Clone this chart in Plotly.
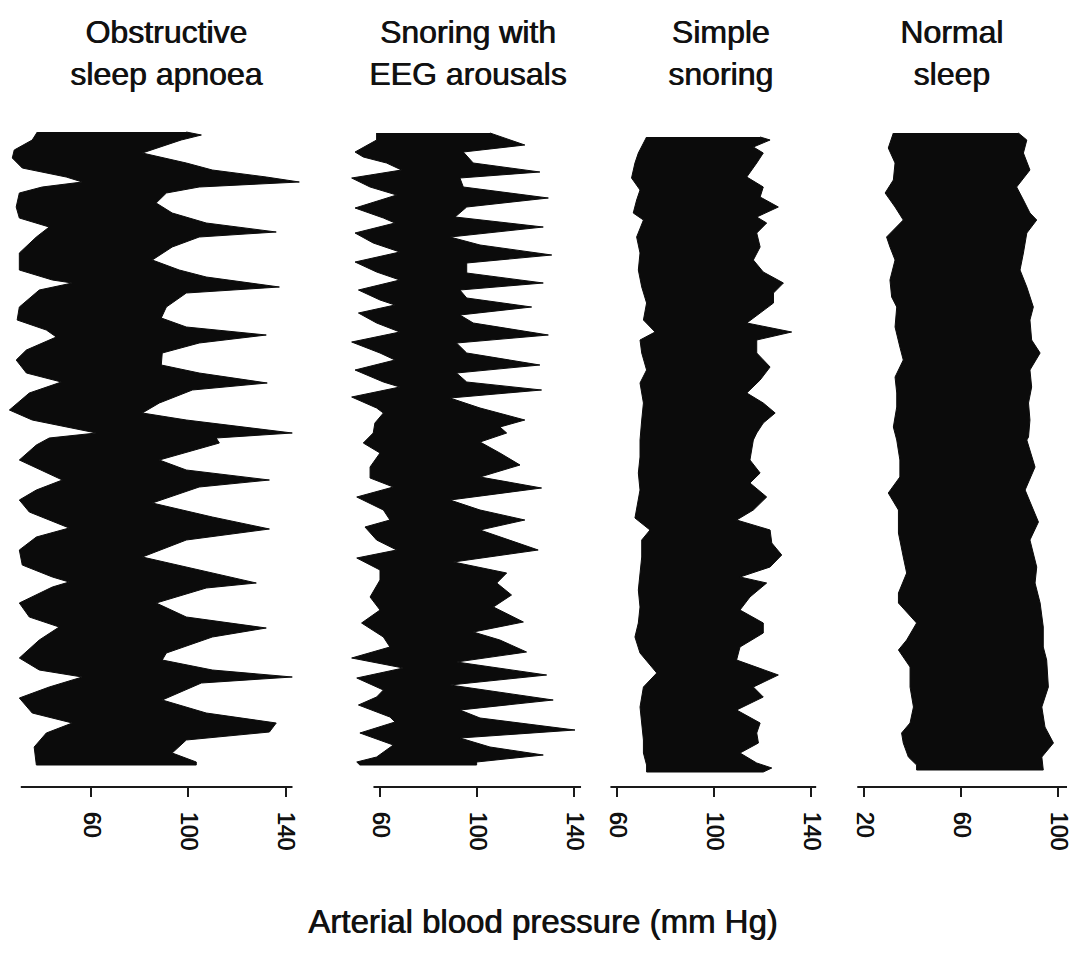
import plotly.graph_objects as go

# ---------------- text ----------------
panel_titles = ["Obstructive<br>sleep apnoea", "Snoring with<br>EEG arousals",
                "Simple<br>snoring", "Normal<br>sleep"]
x_axis_title = "Arterial blood pressure (mm Hg)"

# tick values per panel (mm Hg)
osa_ticks = [60, 100, 140]
arousal_ticks = [60, 100, 140]
snore_ticks = [60, 100, 140]
normal_ticks = [20, 60, 100]

# ---------------- data (time runs downwards, arbitrary units) ----------------
# Obstructive sleep apnoea: diastolic (left) and systolic (right) envelopes
osa_dia_t = [2, 10, 20, 28, 38, 47, 52, 57, 63, 77, 88, 97, 107, 123, 140, 150, 153, 160, 177, 190,
             200, 207, 220, 230, 243, 252, 263, 280, 290, 303, 308, 315, 330, 343, 350, 360, 370, 382,
             398, 407, 420, 435, 447, 452, 457, 473, 487, 497, 510, 528, 540, 547, 557, 568, 583, 593,
             603, 617, 633, 635]
osa_dia = [37.8, 35.7, 28.3, 27.5, 31.6, 49.7, 56.3, 39.8, 30.4, 29.1, 30.4, 42.7, 37.4, 30.4, 30.4,
           44.0, 52.2, 38.6, 30.4, 29.5, 41.5, 45.6, 33.3, 29.1, 33.3, 47.7, 34.5, 26.3, 35.7, 62.1,
           42.7, 37.4, 30.4, 41.5, 48.1, 37.4, 30.4, 34.5, 50.9, 37.4, 30.4, 31.6, 44.0, 50.9, 44.0,
           30.4, 34.5, 46.8, 38.6, 30.4, 38.6, 56.3, 42.7, 30.4, 35.7, 52.2, 41.5, 36.5, 37.4, 37.4]
osa_sys_t = [2, 5, 10, 23, 33, 40, 47, 52, 57, 63, 73, 83, 93, 102, 107, 117, 130, 140, 147, 157, 163,
             177, 188, 197, 205, 213, 223, 235, 243, 253, 260, 273, 283, 290, 303, 308, 313, 330, 340,
             350, 357, 373, 387, 399, 410, 427, 440, 453, 458, 473, 487, 498, 507, 523, 530, 540, 547,
             553, 570, 583, 593, 602, 610, 623, 632, 635]
osa_sys = [99.1, 105.3, 97.0, 81.0, 99.1, 109.8, 132.0, 145.6, 104.4, 90.9, 86.7, 93.3, 107.3, 136.1,
           104.4, 93.3, 85.1, 96.2, 107.3, 137.4, 99.1, 90.9, 88.8, 99.1, 132.0, 104.4, 89.2, 88.8,
           104.4, 132.4, 101.6, 88.0, 81.0, 99.1, 142.7, 111.4, 112.7, 88.0, 99.1, 133.3, 104.4, 85.1,
           109.8, 133.3, 99.1, 81.0, 104.4, 127.9, 107.3, 86.7, 99.1, 132.0, 109.8, 90.9, 89.2, 109.8,
           142.7, 105.3, 89.2, 107.3, 136.1, 133.3, 99.1, 93.3, 103.2, 103.2]

# Snoring with EEG arousals
arousal_dia_t = [3, 10, 22, 27, 33, 40, 48, 57, 65, 78, 88, 93, 103, 113, 122, 132, 142, 150, 160, 170,
                 175, 183, 193, 202, 212, 223, 230, 240, 252, 257, 267, 278, 283, 293, 303, 313, 323,
                 337, 348, 357, 367, 380, 390, 397, 410, 420, 428, 440, 450, 467, 480, 493, 507, 517,
                 528, 538, 548, 560, 567, 575, 587, 592, 603, 615, 627, 632, 635]
arousal_dia = [58.4, 58.4, 49.5, 52.9, 62.5, 68.7, 48.1, 55.7, 66.7, 49.5, 61.2, 66.0, 49.5, 57.0,
               68.0, 49.5, 58.4, 68.0, 50.9, 59.8, 66.0, 50.9, 58.4, 68.0, 48.1, 59.8, 66.0, 49.5,
               61.2, 68.0, 48.1, 58.4, 61.2, 57.7, 57.0, 52.9, 59.8, 55.7, 55.7, 65.3, 50.2, 61.2,
               63.9, 53.6, 58.4, 66.7, 50.2, 59.8, 59.8, 55.7, 59.8, 52.2, 61.2, 63.9, 48.1, 69.4,
               50.2, 61.2, 58.4, 50.9, 63.9, 66.0, 51.5, 65.3, 58.4, 50.2, 51.5]
arousal_sys_t = [3, 15, 22, 33, 42, 48, 57, 68, 77, 87, 97, 107, 115, 125, 133, 143, 153, 160, 168,
                 177, 185, 193, 205, 213, 223, 235, 243, 252, 260, 268, 278, 290, 297, 303, 312, 323,
                 335, 347, 358, 370, 380, 390, 400, 407, 420, 432, 443, 453, 465, 477, 492, 502, 510,
                 522, 532, 545, 555, 570, 580, 588, 600, 608, 617, 625, 632, 635]
arousal_sys = [105.2, 119.6, 94.2, 98.3, 125.8, 92.8, 94.2, 129.3, 95.6, 90.8, 127.2, 88.7, 101.1,
               130.7, 95.6, 95.6, 127.2, 92.8, 95.6, 122.4, 92.8, 98.3, 129.3, 91.4, 95.6, 125.8,
               91.4, 95.6, 126.5, 88.7, 101.1, 119.6, 109.3, 112.1, 101.1, 109.3, 117.6, 101.1,
               126.5, 88.7, 101.1, 119.6, 101.1, 110.0, 125.1, 90.1, 112.1, 108.0, 114.1, 106.6,
               119.0, 98.3, 109.3, 120.3, 91.4, 128.6, 88.7, 131.3, 92.8, 101.1, 140.3, 92.8, 105.2,
               127.2, 99.7, 99.7]

# Simple snoring
snore_dia_t = [7, 13, 23, 33, 48, 60, 70, 83, 90, 107, 123, 140, 157, 173, 190, 202, 210, 223, 240,
               253, 273, 290, 310, 327, 343, 360, 388, 400, 410, 427, 443, 460, 477, 493, 507, 523,
               543, 557, 577, 593, 610, 623, 635, 642]
snore_dia = [72.2, 70.9, 68.8, 67.4, 66.0, 69.5, 68.1, 66.7, 70.9, 68.1, 69.5, 68.8, 70.2, 72.2, 70.9,
             75.7, 69.5, 70.2, 72.2, 69.5, 70.9, 70.2, 69.5, 69.5, 68.8, 69.5, 67.4, 73.6, 70.2, 70.2,
             69.5, 68.8, 69.5, 68.8, 67.4, 69.5, 76.4, 70.9, 69.5, 70.2, 70.9, 70.9, 72.2, 72.2]
snore_sys_t = [7, 10, 17, 23, 33, 47, 57, 67, 77, 87, 93, 103, 117, 130, 142, 153, 163, 173, 183, 193,
               202, 210, 223, 237, 250, 263, 273, 283, 293, 303, 310, 330, 343, 353, 367, 380, 390,
               400, 413, 425, 437, 447, 453, 467, 480, 493, 503, 517, 530, 545, 557, 567, 580, 593,
               603, 613, 623, 633, 638, 642]
snore_sys = [119.0, 123.1, 116.2, 120.3, 117.6, 113.5, 120.3, 119.0, 126.5, 117.6, 121.7, 117.6, 119.0,
             116.2, 120.3, 128.6, 124.5, 124.5, 119.0, 113.5, 132.0, 117.6, 117.6, 123.1, 119.0, 113.5,
             120.3, 125.2, 120.3, 117.6, 116.2, 114.8, 119.0, 114.8, 121.7, 116.2, 109.3, 123.1, 123.8,
             127.9, 123.1, 110.7, 121.7, 114.8, 110.7, 120.3, 120.3, 110.7, 109.3, 126.5, 116.2, 120.3,
             109.3, 119.0, 117.6, 118.3, 110.7, 117.6, 123.8, 120.3]

# Normal sleep
normal_dia_t = [3, 18, 33, 50, 63, 77, 90, 107, 117, 130, 150, 167, 177, 197, 217, 230, 247, 263, 277,
                297, 310, 330, 347, 363, 380, 403, 427, 443, 463, 473, 493, 510, 520, 537, 557, 577,
                593, 603, 613, 627, 635, 640]
normal_dia = [32.0, 29.9, 32.7, 32.0, 28.6, 32.7, 36.1, 29.2, 30.6, 32.7, 30.6, 31.3, 33.4, 32.7, 34.7,
              36.1, 32.7, 33.4, 33.4, 32.0, 33.4, 34.7, 34.7, 29.9, 34.1, 34.1, 36.1, 37.5, 34.1, 34.1,
              41.6, 37.5, 34.1, 38.9, 38.9, 40.3, 38.9, 35.4, 36.1, 38.2, 41.6, 41.6]
normal_sys_t = [3, 10, 23, 40, 57, 70, 83, 90, 103, 123, 140, 157, 177, 190, 210, 223, 240, 257, 273,
                290, 307, 310, 337, 360, 392, 410, 437, 453, 473, 497, 517, 530, 557, 577, 597, 613,
                627, 640]
normal_sys = [83.6, 87.1, 85.7, 88.4, 82.9, 85.7, 88.4, 91.2, 87.1, 85.7, 84.3, 87.1, 89.8, 88.4, 89.1,
              92.6, 88.4, 89.1, 87.8, 88.4, 87.8, 87.1, 90.5, 86.4, 91.9, 88.4, 91.2, 90.5, 92.6, 93.9,
              93.9, 95.3, 96.0, 93.3, 94.6, 98.1, 93.3, 93.9]

panels = [
    (osa_dia_t, osa_dia, osa_sys_t, osa_sys, osa_ticks),
    (arousal_dia_t, arousal_dia, arousal_sys_t, arousal_sys, arousal_ticks),
    (snore_dia_t, snore_dia, snore_sys_t, snore_sys, snore_ticks),
    (normal_dia_t, normal_dia, normal_sys_t, normal_sys, normal_ticks),
]

# ---------------- layout settings (pixels of the 1078x960 page) ----------------
W, H = 1078, 960
x_dom_px = [(5, 310), (345, 590), (600, 830), (850, 1075)]
x_ranges = [(24.5, 150.0), (45.35, 146.5), (53.0, 147.8), (14.1, 107.0)]
axis_line_span = [(31.0, 142.8), (57.1, 142.8), (57.3, 142.1), (17.1, 103.7)]
title_x_px = [166, 467, 720, 951]
y_dom_px = (120, 787)
t_range = [657, -10]

INK = "#0b0b0b"
TXT = "#111111"
FONT = "Liberation Sans, Arial, Helvetica, sans-serif"
HEAVY = "0.8px 0px 0px #111111"

fig = go.Figure()
layout = dict(
    width=W, height=H, margin=dict(l=0, r=0, t=0, b=0),
    plot_bgcolor="white", paper_bgcolor="white", showlegend=False,
    font=dict(family=FONT, color=TXT),
)
shapes = []
annotations = []
for i, (dt, dv, st, sv, ticks) in enumerate(panels):
    n = "" if i == 0 else str(i + 1)
    xs = list(dv) + list(sv)[::-1]
    ys = list(dt) + list(st)[::-1]
    fig.add_trace(go.Scatter(
        x=xs, y=ys, mode="lines", fill="toself", fillcolor=INK,
        line=dict(color=INK, width=1), hoverinfo="skip",
        xaxis="x" + n, yaxis="y" + n,
    ))
    d0, d1 = x_dom_px[i]
    layout["xaxis" + n] = dict(
        domain=[d0 / W, d1 / W], range=list(x_ranges[i]), anchor="y" + n,
        tickvals=ticks, ticktext=[str(v) for v in ticks],
        ticks="outside", ticklen=9, tickwidth=1.5, tickcolor="#1a1a1a",
        tickangle=90, tickfont=dict(size=23, family=FONT, color=TXT, shadow=HEAVY),
        ticklabelstandoff=10,
        showgrid=False, zeroline=False, showline=False, fixedrange=True,
    )
    layout["yaxis" + n] = dict(
        domain=[1 - y_dom_px[1] / H, 1 - y_dom_px[0] / H], range=t_range,
        anchor="x" + n, visible=False, showgrid=False, zeroline=False, fixedrange=True,
    )
    a0, a1 = axis_line_span[i]
    shapes.append(dict(type="line", xref="x" + n, yref="y" + n + " domain",
                       x0=a0, x1=a1, y0=0, y1=0, line=dict(color="#1a1a1a", width=2)))
    annotations.append(dict(
        text=panel_titles[i], x=title_x_px[i] / W, y=1 - 12 / H, xref="paper", yref="paper",
        xanchor="center", yanchor="top", showarrow=False, align="center",
        font=dict(size=32, family=FONT, color=TXT, shadow=HEAVY),
    ))

annotations.append(dict(
    text=x_axis_title, x=542 / W, y=1 - 921 / H, xref="paper", yref="paper",
    xanchor="center", yanchor="middle", showarrow=False,
    font=dict(size=33, family=FONT, color=TXT, shadow=HEAVY),
))
layout["shapes"] = shapes
layout["annotations"] = annotations
fig.update_layout(**layout)
fig.write_html("out.html")
